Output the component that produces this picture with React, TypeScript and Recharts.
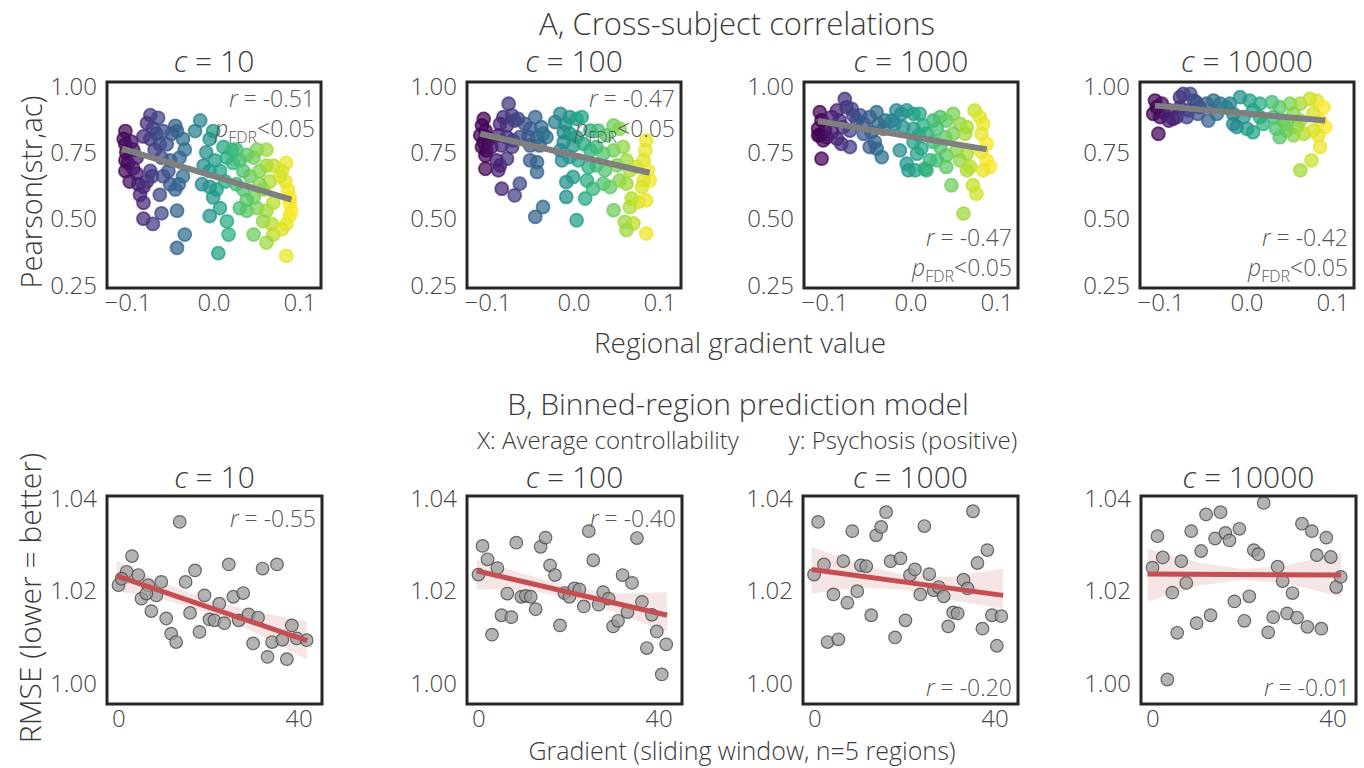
import React from 'react';
import { ComposedChart, Scatter, Area, XAxis, YAxis, ReferenceArea, ReferenceLine } from 'recharts';

const FONT = '"Open Sans", Lato, sans-serif';
const INK = '#3a3a3a';

// ---- row A: cross-subject correlations [gradient value, pearson] ----
const a10 = [
  [-0.103, 0.83], [-0.105, 0.80], [-0.103, 0.78], [-0.096, 0.79], [-0.102, 0.75], [-0.103, 0.72], [-0.100, 0.71],
  [-0.103, 0.68], [-0.094, 0.69], [-0.090, 0.73], [-0.098, 0.64], [-0.088, 0.63], [-0.082, 0.62], [-0.078, 0.64],
  [-0.086, 0.59], [-0.082, 0.56], [-0.082, 0.50], [-0.071, 0.48], [-0.061, 0.52], [-0.094, 0.76], [-0.090, 0.67],
  [-0.074, 0.68], [-0.072, 0.66], [-0.074, 0.89], [-0.078, 0.86], [-0.065, 0.88], [-0.071, 0.84], [-0.082, 0.81],
  [-0.074, 0.80], [-0.067, 0.82], [-0.059, 0.83], [-0.063, 0.78], [-0.055, 0.78], [-0.069, 0.76], [-0.061, 0.73],
  [-0.051, 0.72], [-0.053, 0.68], [-0.051, 0.63], [-0.045, 0.61], [-0.041, 0.63], [-0.059, 0.66], [-0.063, 0.59],
  [-0.045, 0.85], [-0.043, 0.83], [-0.036, 0.80], [-0.034, 0.76], [-0.040, 0.73], [-0.036, 0.66], [-0.043, 0.53],
  [-0.034, 0.44], [-0.043, 0.39], [-0.049, 0.82], [-0.016, 0.87], [-0.022, 0.83], [-0.001, 0.83], [-0.005, 0.80],
  [-0.009, 0.75], [-0.012, 0.70], [-0.005, 0.68], [0.001, 0.72], [0.007, 0.68], [-0.014, 0.63], [-0.005, 0.62],
  [0.003, 0.61], [0.013, 0.64], [-0.001, 0.58], [0.007, 0.54], [-0.005, 0.51], [0.015, 0.49], [0.017, 0.44],
  [0.005, 0.37], [0.015, 0.73], [0.011, 0.77], [0.021, 0.76], [0.022, 0.71], [0.026, 0.76], [0.030, 0.72],
  [0.038, 0.74], [0.046, 0.73], [0.050, 0.76], [0.061, 0.76], [0.034, 0.68], [0.042, 0.66], [0.053, 0.68],
  [0.061, 0.70], [0.069, 0.70], [0.026, 0.63], [0.034, 0.61], [0.046, 0.58], [0.057, 0.61], [0.065, 0.64],
  [0.030, 0.54], [0.038, 0.53], [0.050, 0.54], [0.061, 0.53], [0.069, 0.56], [0.046, 0.44], [0.057, 0.49],
  [0.067, 0.48], [0.069, 0.44], [0.061, 0.41], [0.038, 0.57], [0.053, 0.63], [0.084, 0.71], [0.079, 0.68],
  [0.083, 0.64], [0.086, 0.61], [0.088, 0.56], [0.090, 0.53], [0.088, 0.51], [0.084, 0.48], [0.079, 0.46],
  [0.084, 0.36], [0.077, 0.66], [0.088, 0.58],
];
const a100 = [
  [-0.105, 0.876], [-0.107, 0.851], [-0.103, 0.832], [-0.109, 0.814], [-0.102, 0.807], [-0.105, 0.789], [-0.107, 0.770],
  [-0.102, 0.757], [-0.103, 0.738], [-0.103, 0.688], [-0.100, 0.795], [-0.096, 0.770], [-0.076, 0.933], [-0.082, 0.883],
  [-0.072, 0.889], [-0.086, 0.857], [-0.078, 0.851], [-0.069, 0.870], [-0.065, 0.876], [-0.088, 0.814], [-0.078, 0.807],
  [-0.071, 0.795], [-0.063, 0.807], [-0.084, 0.776], [-0.072, 0.770], [-0.090, 0.720], [-0.086, 0.701], [-0.088, 0.682],
  [-0.084, 0.613], [-0.069, 0.588], [-0.063, 0.632], [-0.078, 0.726], [-0.057, 0.857], [-0.051, 0.839], [-0.045, 0.883],
  [-0.053, 0.807], [-0.043, 0.807], [-0.038, 0.845], [-0.036, 0.820], [-0.032, 0.807], [-0.051, 0.776], [-0.040, 0.776],
  [-0.051, 0.720], [-0.043, 0.713], [-0.043, 0.676], [-0.036, 0.544], [-0.045, 0.507], [-0.022, 0.864], [-0.016, 0.895],
  [-0.010, 0.857], [-0.005, 0.883], [0.003, 0.876], [0.009, 0.883], [-0.012, 0.826], [-0.005, 0.820], [0.003, 0.807],
  [-0.012, 0.789], [-0.001, 0.776], [0.011, 0.782], [-0.014, 0.720], [-0.005, 0.732], [0.005, 0.720], [-0.009, 0.638],
  [-0.001, 0.657], [-0.009, 0.582], [0.013, 0.576], [0.003, 0.494], [-0.016, 0.757], [0.019, 0.832], [0.028, 0.832],
  [0.038, 0.814], [0.046, 0.851], [0.053, 0.839], [0.019, 0.757], [0.026, 0.770], [0.034, 0.745], [0.046, 0.757],
  [0.057, 0.770], [0.017, 0.695], [0.026, 0.701], [0.036, 0.682], [0.050, 0.701], [0.061, 0.720], [0.015, 0.644],
  [0.022, 0.613], [0.034, 0.632], [0.042, 0.619], [0.053, 0.644], [0.061, 0.632], [0.046, 0.532], [0.059, 0.488],
  [0.069, 0.482], [0.061, 0.457], [0.067, 0.576], [0.065, 0.544], [0.065, 0.682], [0.073, 0.695], [0.084, 0.795],
  [0.083, 0.757], [0.081, 0.720], [0.086, 0.682], [0.088, 0.644], [0.079, 0.619], [0.075, 0.563], [0.084, 0.569],
  [0.084, 0.444], [0.081, 0.644],
];
const a1000 = [
  [-0.106, 0.901], [-0.104, 0.870], [-0.108, 0.839], [-0.106, 0.814], [-0.102, 0.795], [-0.100, 0.832], [-0.104, 0.726],
  [-0.108, 0.814], [-0.098, 0.807], [-0.092, 0.883], [-0.086, 0.908], [-0.077, 0.951], [-0.075, 0.920], [-0.083, 0.870],
  [-0.079, 0.845], [-0.092, 0.826], [-0.086, 0.801], [-0.081, 0.782], [-0.071, 0.770], [-0.067, 0.889], [-0.063, 0.870],
  [-0.071, 0.832], [-0.069, 0.914], [-0.059, 0.889], [-0.055, 0.857], [-0.048, 0.883], [-0.040, 0.901], [-0.055, 0.820],
  [-0.046, 0.826], [-0.042, 0.789], [-0.040, 0.764], [-0.034, 0.732], [-0.048, 0.770], [-0.032, 0.839], [-0.030, 0.870],
  [-0.038, 0.857], [-0.022, 0.870], [-0.017, 0.908], [-0.011, 0.895], [-0.005, 0.908], [0.003, 0.895], [0.010, 0.895],
  [-0.019, 0.857], [-0.009, 0.845], [0.003, 0.839], [0.014, 0.851], [-0.013, 0.757], [0.003, 0.789], [0.009, 0.814],
  [0.018, 0.820], [0.007, 0.745], [-0.005, 0.707], [-0.003, 0.682], [0.005, 0.682], [0.016, 0.688], [0.022, 0.720],
  [0.012, 0.764], [0.026, 0.789], [0.026, 0.870], [0.034, 0.883], [0.041, 0.870], [0.049, 0.895], [0.057, 0.857],
  [0.065, 0.845], [0.030, 0.839], [0.040, 0.807], [0.049, 0.820], [0.063, 0.820], [0.034, 0.770], [0.041, 0.738],
  [0.053, 0.757], [0.065, 0.745], [0.030, 0.720], [0.041, 0.695], [0.057, 0.720], [0.065, 0.682], [0.069, 0.695],
  [0.047, 0.626], [0.061, 0.519], [0.072, 0.626], [0.076, 0.594], [0.018, 0.682], [0.074, 0.908], [0.080, 0.883],
  [0.084, 0.857], [0.082, 0.820], [0.088, 0.782], [0.082, 0.751], [0.088, 0.720], [0.092, 0.695], [0.084, 0.682],
];
const a10000 = [
  [-0.107, 0.945], [-0.105, 0.920], [-0.109, 0.895], [-0.101, 0.883], [-0.103, 0.820], [-0.097, 0.901], [-0.099, 0.933],
  [-0.090, 0.908], [-0.086, 0.876], [-0.078, 0.958], [-0.074, 0.970], [-0.066, 0.970], [-0.062, 0.945], [-0.078, 0.920],
  [-0.068, 0.908], [-0.091, 0.870], [-0.082, 0.883], [-0.070, 0.883], [-0.059, 0.939], [-0.047, 0.933], [-0.039, 0.945],
  [-0.031, 0.933], [-0.057, 0.895], [-0.045, 0.870], [-0.035, 0.895], [-0.024, 0.920], [-0.055, 0.920], [-0.020, 0.933],
  [-0.008, 0.958], [0.003, 0.945], [0.015, 0.933], [-0.016, 0.895], [-0.004, 0.883], [0.007, 0.908], [-0.012, 0.845],
  [0.000, 0.839], [0.007, 0.826], [0.019, 0.857], [-0.016, 0.857], [0.015, 0.883], [0.029, 0.939], [0.038, 0.920],
  [0.050, 0.933], [0.062, 0.933], [0.031, 0.883], [0.042, 0.870], [0.054, 0.895], [0.062, 0.870], [0.034, 0.839],
  [0.046, 0.832], [0.058, 0.845], [0.038, 0.807], [0.054, 0.814], [0.066, 0.820], [0.062, 0.682], [0.046, 0.857],
  [0.073, 0.951], [0.081, 0.945], [0.089, 0.920], [0.077, 0.895], [0.085, 0.870], [0.091, 0.845], [0.077, 0.832],
  [0.083, 0.814], [0.085, 0.770], [0.075, 0.720],
];
// fitted regression segments (start, end)
const a10Fit = [[-0.107, 0.764], [0.090, 0.572]];
const a100Fit = [[-0.109, 0.820], [0.088, 0.673]];
const a1000Fit = [[-0.108, 0.868], [0.088, 0.761]];
const a10000Fit = [[-0.107, 0.926], [0.091, 0.870]];
const rA = ['-0.51', '-0.47', '-0.47', '-0.42'];

// ---- row B: binned-region prediction [window index, RMSE] ----
const b10 = [
  [13.5, 1.0349], [2.9, 1.0275], [-0.1, 1.0212], [1.7, 1.0241], [4.3, 1.0234], [6.5, 1.0212], [9.4, 1.0219], [8.3, 1.019],
  [5.0, 1.0183], [7.2, 1.0156], [10.5, 1.014], [11.6, 1.0107], [12.7, 1.0089], [14.8, 1.0219], [16.9, 1.0244], [15.8, 1.0152],
  [17.9, 1.0111], [19.0, 1.019], [20.1, 1.0138], [21.2, 1.0136], [22.3, 1.0172], [23.4, 1.013], [24.4, 1.0257], [25.4, 1.0187],
  [26.6, 1.0136], [27.6, 1.0195], [28.8, 1.0149], [29.8, 1.0086], [30.9, 1.0142], [31.9, 1.0248], [33.0, 1.0057], [34.0, 1.0089],
  [35.1, 1.0257], [36.3, 1.0094], [37.3, 1.0052], [38.4, 1.0125], [39.5, 1.0097], [41.7, 1.0093], [0.6, 1.0226], [6.1, 1.0194],
];
const b100 = [
  [-0.1, 1.0235], [0.8, 1.0297], [1.9, 1.0268], [4.1, 1.0249], [2.9, 1.0105], [5.0, 1.0147], [6.3, 1.0194], [7.2, 1.0143],
  [8.3, 1.0304], [9.4, 1.0187], [10.4, 1.0189], [11.5, 1.0187], [12.6, 1.016], [13.7, 1.0295], [14.8, 1.0315], [15.8, 1.0255],
  [16.9, 1.0234], [18.0, 1.0125], [19.0, 1.0195], [20.1, 1.0187], [21.2, 1.0205], [22.3, 1.0203], [23.3, 1.0166], [24.4, 1.0329],
  [25.4, 1.0266], [26.6, 1.017], [27.6, 1.0197], [28.8, 1.0183], [29.8, 1.0123], [30.9, 1.0135], [31.9, 1.0234], [33.0, 1.0154],
  [34.0, 1.0217], [35.1, 1.0314], [36.2, 1.0176], [37.3, 1.0076], [38.4, 1.0148], [39.5, 1.0112], [40.6, 1.0019], [41.6, 1.0084],
];
const b1000 = [
  [0.7, 1.0349], [-0.2, 1.0235], [2.0, 1.0257], [4.1, 1.0192], [6.3, 1.0264], [7.2, 1.0174], [8.3, 1.0329], [9.4, 1.0199],
  [10.2, 1.0255], [11.4, 1.0253], [12.5, 1.0147], [13.6, 1.032], [14.7, 1.0338], [15.8, 1.037], [16.8, 1.0264], [17.8, 1.0099],
  [19.0, 1.027], [20.1, 1.0136], [21.1, 1.0234], [22.2, 1.0246], [23.4, 1.0192], [24.3, 1.034], [25.4, 1.0236], [26.4, 1.0201],
  [27.5, 1.0208], [28.6, 1.0188], [29.6, 1.0123], [30.7, 1.0153], [31.7, 1.0151], [33.0, 1.0224], [33.9, 1.0205], [35.1, 1.0372],
  [36.1, 1.026], [37.2, 1.0118], [38.3, 1.0288], [39.3, 1.0147], [40.4, 1.0081], [41.4, 1.0145], [2.8, 1.0089], [5.2, 1.0095],
];
const b10000 = [
  [-0.1, 1.025], [1.0, 1.0318], [2.2, 1.0272], [4.3, 1.0196], [6.3, 1.0264], [7.4, 1.0217], [5.4, 1.0109], [8.5, 1.0329],
  [9.7, 1.013], [10.7, 1.0286], [11.8, 1.0365], [12.8, 1.0147], [13.8, 1.0313], [15.0, 1.037], [16.1, 1.0325], [17.0, 1.0309],
  [18.1, 1.0177], [19.2, 1.0334], [20.3, 1.0135], [21.4, 1.0188], [22.4, 1.0288], [23.4, 1.0279], [24.6, 1.039], [25.6, 1.011],
  [26.7, 1.0143], [27.7, 1.0252], [28.8, 1.0221], [29.8, 1.0151], [31.0, 1.0195], [32.0, 1.0142], [33.1, 1.0345], [34.3, 1.0122],
  [35.3, 1.0329], [36.4, 1.0277], [37.4, 1.0118], [38.5, 1.0315], [39.5, 1.0273], [40.7, 1.0208], [41.7, 1.023], [3.2, 1.0008],
];
const b10Fit = [[-0.5, 1.0232], [41.8, 1.0092]];
const b100Fit = [[-0.5, 1.0243], [41.8, 1.0147]];
const b1000Fit = [[-0.7, 1.0246], [41.8, 1.019]];
const b10000Fit = [[-1.2, 1.0236], [41.8, 1.0234]];
// confidence band [x, low, high]
const b10Band = [[-0.5, 1.0199, 1.0266], [10, 1.0181, 1.0217], [20, 1.0152, 1.018], [30, 1.0111, 1.0155], [41.8, 1.0051, 1.0134]];
const b100Band = [[-0.5, 1.0203, 1.0268], [10, 1.0202, 1.0236], [20, 1.0184, 1.021], [30, 1.0154, 1.0194], [41.8, 1.0111, 1.0197]];
const b1000Band = [[-0.7, 1.0194, 1.0295], [10, 1.0207, 1.0257], [20, 1.0202, 1.0234], [30, 1.018, 1.023], [41.8, 1.0161, 1.0248]];
const b10000Band = [[-1.2, 1.0176, 1.0291], [10, 1.0211, 1.0261], [20, 1.0223, 1.0247], [30, 1.0215, 1.0255], [41.8, 1.0187, 1.0284]];
const rB = ['-0.55', '-0.40', '-0.20', '-0.01'];

const cValues = ['10', '100', '1000', '10000'];
const xTicksA = [-0.1, 0, 0.1];
const yTicksA = [0.25, 0.5, 0.75, 1.0];
const xTicksB = [0, 40];
const yTicksB = [1.0, 1.02, 1.04];

const VIRIDIS = ['#440154', '#482475', '#414487', '#355f8d', '#2a788e', '#21918c', '#22a884', '#44bf70', '#7ad151', '#bddf26', '#fde725'];

function viridis(v: number) {
  const t = Math.max(0, Math.min(1, (v + 0.105) / 0.195)) * (VIRIDIS.length - 1);
  const i = Math.min(Math.floor(t), VIRIDIS.length - 2);
  const f = t - i;
  const a = VIRIDIS[i], b = VIRIDIS[i + 1];
  const ch = (s: string, k: number) => parseInt(s.slice(1 + 2 * k, 3 + 2 * k), 16);
  const c = [0, 1, 2].map(k => Math.round(ch(a, k) + (ch(b, k) - ch(a, k)) * f));
  return `rgb(${c[0]},${c[1]},${c[2]})`;
}

const toPts = (arr: number[][]) => arr.map(([x, y]) => ({ x, y }));
const toBand = (arr: number[][]) => arr.map(([x, lo, hi]) => ({ x, r: [lo, hi] }));

const fmtA = (v: number) => (v === 0 ? '0.0' : (v < 0 ? '\u2212' : '') + Math.abs(v).toFixed(1));
const fmt2 = (v: number) => v.toFixed(2);

const tickStyle = { fontSize: 24, fill: '#444', fontFamily: FONT, fontWeight: 300 };

const colorDot = (p: any) => {
  const c = viridis(p.payload.x);
  return <circle cx={p.cx} cy={p.cy} r={6.5} fill={c} fillOpacity={0.72} stroke={c} strokeOpacity={0.75} strokeWidth={1.8} />;
};
const grayDot = (p: any) => (
  <circle cx={p.cx} cy={p.cy} r={6.3} fill="#9a9a9a" fillOpacity={0.75} stroke="#4a4a4a" strokeOpacity={0.8} strokeWidth={1.2} />
);

interface PanelProps {
  left: number; top: number; w: number; h: number;
  xDomain: number[]; yDomain: number[];
  xTicks: number[]; yTicks: number[];
  fmtX: (v: number) => string;
  pts: number[][]; fit: number[][]; band?: number[][];
  row: 'A' | 'B';
}

const YW = 90, MT = 20, MR = 12, XH = 45;

function Panel({ left, top, w, h, xDomain, yDomain, xTicks, yTicks, fmtX, pts, fit, band, row }: PanelProps) {
  const cw = YW + w + MR, chh = MT + h + XH;
  const margin = { top: MT, right: MR, bottom: 0, left: 0 };
  return (
    <div style={{ position: 'absolute', left: left - YW, top: top - MT, width: cw, height: chh }}>
      <ComposedChart width={cw} height={chh} margin={margin}>
        <XAxis type="number" dataKey="x" domain={xDomain} ticks={xTicks} tickFormatter={fmtX} allowDataOverflow
          axisLine={false} tickLine={false} height={XH} tick={tickStyle} tickMargin={0} interval={0} />
        <YAxis type="number" dataKey="y" domain={yDomain} ticks={yTicks} tickFormatter={fmt2} allowDataOverflow
          axisLine={false} tickLine={false} width={YW} tick={tickStyle} tickMargin={4} interval={0} />
        {band && (
          <Area data={toBand(band)} dataKey="r" type="linear" stroke="none" fill="#c44e52" fillOpacity={0.15}
            isAnimationActive={false} />
        )}
        <Scatter data={toPts(pts)} shape={row === 'A' ? colorDot : grayDot} isAnimationActive={false} />
      </ComposedChart>
      {/* overlay: fit line and frame drawn above the points */}
      <div style={{ position: 'absolute', left: 0, top: 0 }}>
        <ComposedChart width={cw} height={chh} margin={margin}>
          <XAxis type="number" dataKey="x" domain={xDomain} allowDataOverflow axisLine={false} tickLine={false}
            tick={false} height={XH} />
          <YAxis type="number" dataKey="y" domain={yDomain} allowDataOverflow axisLine={false} tickLine={false}
            tick={false} width={YW} />
          <ReferenceLine segment={toPts(fit)} stroke={row === 'A' ? '#7f7f7f' : '#c44e52'} strokeWidth={row === 'A' ? 6 : 5} />
          <ReferenceArea x1={xDomain[0]} x2={xDomain[1]} y1={yDomain[0]} y2={yDomain[1]} fill="none" stroke="#262626"
            strokeWidth={3} ifOverflow="visible" />
        </ComposedChart>
      </div>
    </div>
  );
}

const Txt = ({ x, y, size, children, anchor = 'middle', style = {} }: any) => (
  <div style={{
    position: 'absolute', left: x, top: y, fontSize: size, lineHeight: 1, whiteSpace: 'nowrap',
    transform: anchor === 'middle' ? 'translate(-50%, -50%)' : anchor === 'end' ? 'translate(-100%, -50%)' : 'translate(0, -50%)',
    ...style,
  }}>{children}</div>
);

const PLabel = () => (
  <span><i>p</i><span style={{ fontSize: 16, position: 'relative', top: 6 }}>FDR</span>&lt;0.05</span>
);

export default function App() {
  const aLeft = [107, 467, 804, 1140];
  const bLeft = [107, 467, 803, 1141];
  const aPts = [a10, a100, a1000, a10000];
  const aFits = [a10Fit, a100Fit, a1000Fit, a10000Fit];
  const bPts = [b10, b100, b1000, b10000];
  const bFits = [b10Fit, b100Fit, b1000Fit, b10000Fit];
  const bBands = [b10Band, b100Band, b1000Band, b10000Band];
  const W = 214;
  return (
    <div style={{ position: 'absolute', left: 0, top: 0, width: 1364, height: 768, background: '#fff', fontFamily: FONT, fontWeight: 300, color: INK, overflow: 'hidden' }}>
      <Txt x={737} y={23} size={31}>A, Cross-subject correlations</Txt>
      {aLeft.map((l, i) => (
        <Panel key={'a' + i} left={l} top={82} w={W} h={206} xDomain={[-0.1244, 0.1244]} yDomain={[0.2387, 1.015]}
          xTicks={xTicksA} yTicks={yTicksA} fmtX={fmtA} pts={aPts[i]} fit={aFits[i]} row="A" />
      ))}
      {aLeft.map((l, i) => (
        <Txt key={'ta' + i} x={l + W / 2} y={61} size={30}><i>c</i> = {cValues[i]}</Txt>
      ))}
      {aLeft.map((l, i) => {
        const low = i >= 2;
        return (
          <React.Fragment key={'ra' + i}>
            <Txt x={l + W - 6} y={low ? 237 : 98} size={23} anchor="end" style={{ color: '#555' }}><i>r</i> = {rA[i]}</Txt>
            <Txt x={l + W - 6} y={low ? 267 : 128} size={23} anchor="end" style={{ color: '#555' }}><PLabel /></Txt>
          </React.Fragment>
        );
      })}
      <Txt x={30} y={192} size={29} style={{ transform: 'translate(-50%, -50%) rotate(-90deg)' }}>Pearson(str,ac)</Txt>
      <Txt x={740} y={342} size={28}>Regional gradient value</Txt>

      <Txt x={738} y={404} size={30}>B, Binned-region prediction model</Txt>
      <Txt x={608} y={440} size={24}>X: Average controllability</Txt>
      <Txt x={903} y={440} size={24}>y: Psychosis (positive)</Txt>
      {bLeft.map((l, i) => (
        <Panel key={'b' + i} left={l} top={496} w={215} h={208} xDomain={[-2.65, 45.1]} yDomain={[0.9955, 1.0405]}
          xTicks={xTicksB} yTicks={yTicksB} fmtX={(v) => String(v)} pts={bPts[i]} fit={bFits[i]} band={bBands[i]} row="B" />
      ))}
      {bLeft.map((l, i) => (
        <Txt key={'tb' + i} x={l + 215 / 2} y={477} size={30}><i>c</i> = {cValues[i]}</Txt>
      ))}
      {bLeft.map((l, i) => (
        <Txt key={'rb' + i} x={l + 215 - 6} y={i >= 2 ? 687 : 518} size={23} anchor="end" style={{ color: '#555' }}>
          <i>r</i> = {rB[i]}
        </Txt>
      ))}
      <Txt x={30} y={598} size={30} style={{ transform: 'translate(-50%, -50%) rotate(-90deg)' }}>RMSE (lower = better)</Txt>
      <Txt x={742} y={750} size={25}>Gradient (sliding window, n=5 regions)</Txt>
    </div>
  );
}
